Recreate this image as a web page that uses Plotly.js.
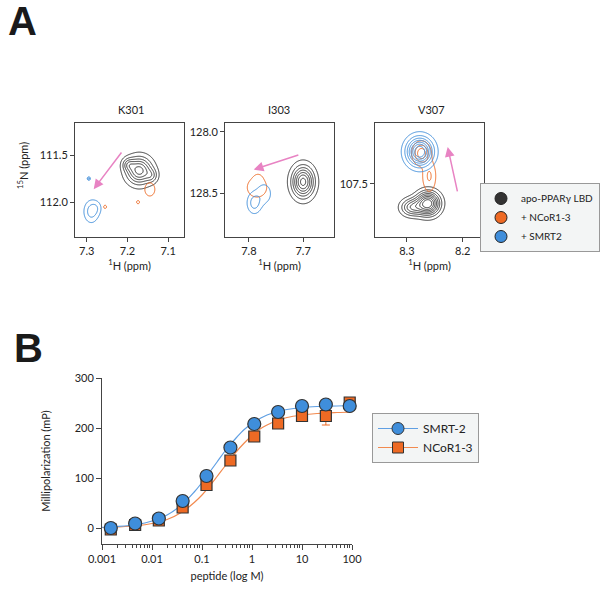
<!DOCTYPE html>
<html lang="en">
  <head>
    <meta charset="UTF-8" />
    <title>PPARg NMR and FP</title>
    <script src="https://cdn.plot.ly/plotly-3.0.1.min.js"></script>
    <style>
      body { margin: 0; background: #fff; }
      #myDiv { width: 600px; height: 593px; }
    </style>
  </head>
  <body>
    <div id="myDiv"></div>
    <script>
      // ---- panel A: peak estimates [1H ppm, 15N ppm, width 1H, width 15N, height]
      const k301Apo = [[7.171, 111.665, 0.021, 0.095, 1.0], [7.198, 111.60, 0.010, 0.045, 0.35], [7.14, 111.72, 0.010, 0.05, 0.3]];
      const k301Ncor = [[7.145, 111.865, 0.0104, 0.059, 1.0], [7.174, 112.0, 0.003, 0.014, 1.0], [7.255, 112.05, 0.003, 0.014, 1.0]];
      const k301Smrt = [[7.289, 112.10, 0.0116, 0.075, 1.0], [7.276, 112.06, 0.009, 0.05, 0.4], [7.295, 111.75, 0.0025, 0.012, 1.0]];

      const i303Apo = [[7.700, 128.405, 0.0135, 0.0825, 1.0]];
      const i303Ncor = [[7.785, 128.45, 0.0115, 0.05, 1.0], [7.783, 128.38, 0.006, 0.03, 0.4]];
      const i303Smrt = [[7.790, 128.575, 0.0085, 0.055, 1.0], [7.772, 128.50, 0.010, 0.06, 0.6]];

      const v307Apo = [[8.262, 107.65, 0.014, 0.06, 1.0], [8.292, 107.68, 0.013, 0.045, 0.5]];
      const v307Ncor = [[8.274, 107.265, 0.009, 0.05, 1.0], [8.26, 107.44, 0.0075, 0.075, 0.5]];
      const v307Smrt = [[8.277, 107.252, 0.0154, 0.072, 1.0]];

      const residues = ["K301", "I303", "V307"];
      const specNames = ["apo-PPARγ LBD", "+ NCoR1-3", "+ SMRT2"];

      // ---- panel B: fluorescence polarization
      const conc = [0.0015, 0.0046, 0.0137, 0.041, 0.123, 0.37, 1.11, 3.33, 10, 30, 90];
      const smrt2 = [0, 9, 19, 54, 104, 161, 208, 232, 244, 247, 244];
      const ncor13 = [-3, 6, 15, 41, 86, 135, 183, 209, 224, 224, 251];
      const ncor13ErrLow = [0, 0, 0, 0, 0, 0, 0, 0, 0, 18, 0];

      const fitConc = [0.001, 0.002, 0.005, 0.01, 0.02, 0.04, 0.07, 0.1, 0.15, 0.2, 0.3, 0.5, 0.7, 1, 1.5, 2, 3, 5, 10, 20, 50, 100];
      const smrt2Fit = [1.5, 3, 7, 14, 26, 47, 72, 91, 115, 132, 156, 182, 197, 209, 220, 226, 232, 237, 241, 243, 244, 245];
      const ncor13Fit = [1, 2, 4.5, 9, 17, 32, 51, 66, 87, 103, 126, 154, 170, 185, 199, 206, 214, 221, 226, 229, 231, 232];

      const FONT = 'Lato, "Noto Sans", sans-serif';
      const BLACK = "#333333", ORANGE = "#ee6a24", BLUE = "#3f8edb", PINK = "#e883c3";

      // build a 2D peak map for the contour trace
      function peakMap(peaks, xr, yr, n) {
        const xs = [], ys = [], z = [];
        for (let i = 0; i < n; i++) xs.push(xr[0] + (xr[1] - xr[0]) * i / (n - 1));
        for (let j = 0; j < n; j++) ys.push(yr[0] + (yr[1] - yr[0]) * j / (n - 1));
        ys.forEach(function (y) {
          z.push(xs.map(function (x) {
            let s = 0;
            peaks.forEach(function (p) {
              s += p[4] * Math.exp(-((x - p[0]) ** 2) / (2 * p[2] ** 2) - ((y - p[1]) ** 2) / (2 * p[3] ** 2));
            });
            return s;
          }));
        });
        return { x: xs, y: ys, z: z };
      }

      function contour(peaks, xr, yr, color, lv, ax) {
        const m = peakMap(peaks, xr, yr, 200);
        return {
          type: "contour", x: m.x, y: m.y, z: m.z,
          xaxis: "x" + ax, yaxis: "y" + ax,
          autocontour: false,
          contours: { coloring: "none", start: lv[0], end: lv[1], size: lv[2] },
          line: { color: color, width: 1, smoothing: 1 },
          showscale: false, showlegend: false, hoverinfo: "skip"
        };
      }

      const ranges = [
        { x: [7.329, 7.061], y: [112.37, 111.16] },
        { x: [7.844, 7.643], y: [128.85, 127.93] },
        { x: [8.357, 8.162], y: [107.908, 107.031] }
      ];

      var data = [
        contour(k301Apo, ranges[0].x, ranges[0].y, BLACK, [0.12, 0.93, 0.16], ""),
        contour(k301Ncor, ranges[0].x, ranges[0].y, ORANGE, [0.5, 0.51, 1], ""),
        contour(k301Smrt, ranges[0].x, ranges[0].y, BLUE, [0.3, 0.76, 0.45], ""),
        contour(i303Apo, ranges[1].x, ranges[1].y, BLACK, [0.1, 0.95, 0.14], "2"),
        contour(i303Ncor, ranges[1].x, ranges[1].y, ORANGE, [0.3, 0.31, 1], "2"),
        contour(i303Smrt, ranges[1].x, ranges[1].y, BLUE, [0.3, 0.76, 0.45], "2"),
        contour(v307Apo, ranges[2].x, ranges[2].y, BLACK, [0.1, 0.92, 0.115], "3"),
        contour(v307Ncor, ranges[2].x, ranges[2].y, ORANGE, [0.15, 0.76, 0.3], "3"),
        contour(v307Smrt, ranges[2].x, ranges[2].y, BLUE, [0.1, 0.86, 0.125], "3")
      ];

      // legend entries for panel A
      [BLACK, ORANGE, BLUE].forEach(function (c, i) {
        data.push({
          type: "scatter", mode: "markers", x: [null], y: [null], name: specNames[i],
          marker: { color: c, size: 12, line: { color: "#222", width: 1 } },
          legend: "legend", xaxis: "x", yaxis: "y", hoverinfo: "skip"
        });
      });

      // panel B fits, points and legend
      data.push(
        { type: "scatter", mode: "lines", x: fitConc, y: ncor13Fit, xaxis: "x4", yaxis: "y4",
          line: { color: "#f28a4f", width: 1.2, shape: "spline" }, showlegend: false },
        { type: "scatter", mode: "lines", x: fitConc, y: smrt2Fit, xaxis: "x4", yaxis: "y4",
          line: { color: "#5f9fe3", width: 1.2, shape: "spline" }, showlegend: false },
        { type: "scatter", mode: "markers", x: conc, y: ncor13, xaxis: "x4", yaxis: "y4",
          marker: { symbol: "square", color: ORANGE, size: 11, line: { color: "#333", width: 1.2 } },
          error_y: { type: "data", symmetric: false, array: conc.map(() => 0), arrayminus: ncor13ErrLow,
            color: ORANGE, thickness: 1, width: 4 },
          cliponaxis: false, showlegend: false },
        { type: "scatter", mode: "markers", x: conc, y: smrt2, xaxis: "x4", yaxis: "y4",
          marker: { symbol: "circle", color: BLUE, size: 13, line: { color: "#333", width: 1.2 } },
          cliponaxis: false, showlegend: false },
        { type: "scatter", mode: "lines+markers", x: [null], y: [null], name: "SMRT-2", legend: "legend2",
          xaxis: "x4", yaxis: "y4", line: { color: "#5f9fe3", width: 1 },
          marker: { symbol: "circle", color: BLUE, size: 12, line: { color: "#333", width: 1 } } },
        { type: "scatter", mode: "lines+markers", x: [null], y: [null], name: "NCoR1-3", legend: "legend2",
          xaxis: "x4", yaxis: "y4", line: { color: "#f28a4f", width: 1 },
          marker: { symbol: "square", color: ORANGE, size: 11, line: { color: "#333", width: 1 } } }
      );

      function boxAxis(domain, range, tickvals, anchor) {
        return {
          domain: domain, range: range, tickvals: tickvals, tickformat: ".1f", anchor: anchor,
          showline: true, mirror: true, linecolor: "#444", linewidth: 1,
          ticks: "outside", ticklen: 4, tickcolor: "#444",
          showgrid: false, zeroline: false, tickfont: { size: 11, color: "#222" }
        };
      }
      const yDom = [1 - 237 / 593, 1 - 123 / 593];
      const hTitle = { text: "<sup>1</sup>H (ppm)", font: { size: 11, color: "#222" }, standoff: 4 };

      var xa1 = boxAxis([75 / 600, 184 / 600], ranges[0].x, [7.3, 7.2, 7.1], "y");
      var xa2 = boxAxis([225 / 600, 334 / 600], ranges[1].x, [7.8, 7.7], "y2");
      var xa3 = boxAxis([375 / 600, 484 / 600], ranges[2].x, [8.3, 8.2], "y3");
      [xa1, xa2, xa3].forEach(a => (a.title = hTitle));

      var minorLog = [];
      for (let k = -3; k < 2; k++) for (let d = 2; d < 10; d++) minorLog.push(d * Math.pow(10, k));

      function paperText(text, px, py, font, angle) {
        return { text: text, x: px / 600, y: 1 - py / 593, xref: "paper", yref: "paper",
          xanchor: "center", yanchor: "middle", showarrow: false, font: font, textangle: angle || 0 };
      }
      function shiftArrow(ax, head, tail) {
        return { x: head[0], y: head[1], ax: tail[0], ay: tail[1],
          xref: "x" + ax, yref: "y" + ax, axref: "x" + ax, ayref: "y" + ax,
          text: "", showarrow: true, arrowhead: 2, arrowsize: 1.3, arrowwidth: 1.5, arrowcolor: PINK };
      }
      const bigFont = { family: "Liberation Sans, Arial, sans-serif", size: 40, color: "#1a1a1a" };

      var layout = {
        width: 600, height: 593,
        margin: { l: 0, r: 0, t: 0, b: 0 },
        paper_bgcolor: "#fff", plot_bgcolor: "rgba(0,0,0,0)",
        font: { family: FONT, color: "#222", size: 11 },
        xaxis: xa1,
        yaxis: boxAxis(yDom, ranges[0].y, [111.5, 112.0], "x"),
        xaxis2: xa2,
        yaxis2: boxAxis(yDom, ranges[1].y, [128.0, 128.5], "x2"),
        xaxis3: xa3,
        yaxis3: boxAxis(yDom, ranges[2].y, [107.5], "x3"),
        xaxis4: {
          domain: [102 / 600, 352 / 600], anchor: "y4", type: "log", range: [-3, 2],
          tickvals: [0.001, 0.01, 0.1, 1, 10, 100], ticktext: ["0.001", "0.01", "0.1", "1", "10", "100"],
          showline: true, linecolor: "#444", linewidth: 1, ticks: "outside", ticklen: 5, tickcolor: "#444",
          minor: { tickvals: minorLog, ticks: "outside", ticklen: 3, tickcolor: "#444" },
          showgrid: false, zeroline: false, tickfont: { size: 11 },
          title: { text: "peptide (log M)", font: { size: 11 }, standoff: 8 }
        },
        yaxis4: {
          domain: [1 - 544 / 593, 1 - 378 / 593], anchor: "x4", range: [-32, 300],
          tickvals: [0, 100, 200, 300],
          showline: true, linecolor: "#444", linewidth: 1, ticks: "outside", ticklen: 5, tickcolor: "#444",
          showgrid: false, zeroline: false, tickfont: { size: 11 },
          title: { text: "Millipolarization (mP)", font: { size: 11 }, standoff: 21 }
        },
        legend: {
          x: 1, xanchor: "right", y: 1 - 183 / 593, yanchor: "top",
          bgcolor: "#f3f5f5", bordercolor: "#999", borderwidth: 1,
          font: { size: 10 }, itemwidth: 30, tracegroupgap: 0
        },
        legend2: {
          x: 372 / 600, xanchor: "left", y: 1 - 413 / 593, yanchor: "top",
          bgcolor: "#f3f5f5", bordercolor: "#999", borderwidth: 1,
          font: { size: 12 }, itemwidth: 40, entrywidth: 60
        },
        annotations: [
          paperText("<b>A</b>", 22, 21, bigFont),
          paperText("<b>B</b>", 28, 348, bigFont),
          paperText("<sup>15</sup>N (ppm)", 23, 166, { size: 11 }, -90),
          // pink shift arrows: head, tail
          shiftArrow("", [7.283, 111.862], [7.212, 111.457]),
          shiftArrow("2", [7.791, 128.306], [7.706, 128.185]),
          shiftArrow("3", [8.227, 107.215], [8.209, 107.569])
        ].concat(residues.map(function (r, i) {
          return paperText(r, [131, 279, 431][i], 110, { size: 11 });
        }))
      };

      Plotly.newPlot("myDiv", data, layout, { staticPlot: true });
    </script>
  </body>
</html>
